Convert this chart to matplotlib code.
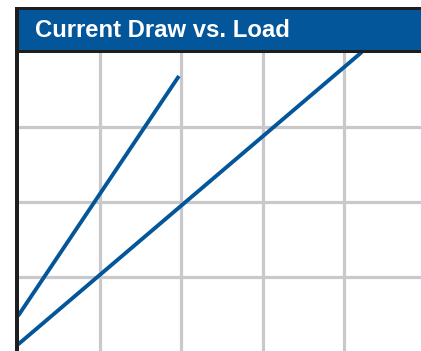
import matplotlib.pyplot as plt
from matplotlib.patches import Rectangle

# load (grid units) vs. current draw (grid units) for the two supplies
load_a = [0.0, 1.975]
current_a = [0.48, 3.68]
load_b = [0.0, 4.22]
current_b = [0.10, 4.0]

grid_x = [1, 2, 3, 4]
grid_y = [1, 2, 3]

W, H = 421, 351
BLUE = '#04569a'
GRID = '#c9c9cb'

fig = plt.figure(figsize=(W / 100, H / 100), dpi=100)


def box(x0, y0, x1, y1):
    # pixel box (top-left origin) -> figure fraction [l, b, w, h]
    return [x0 / W, 1 - y1 / H, (x1 - x0) / W, (y1 - y0) / H]


# plot area: 5 columns x 4 rows, 81.5 x 75 px cells, bottom row cut off
ax = fig.add_axes(box(18, 52, 18 + 81.5 * 5, 352))
ax.set_xlim(0, 5)
ax.set_ylim(0, 4)
ax.set_xticks(grid_x)
ax.set_yticks(grid_y)
ax.tick_params(length=0, labelbottom=False, labelleft=False)
ax.grid(True, color=GRID, linewidth=2.3)
ax.set_axisbelow(True)
for side in ['top', 'right', 'bottom', 'left']:
    ax.spines[side].set_visible(False)

ax.plot(load_a, current_a, color=BLUE, linewidth=2.8, solid_capstyle='butt')
ax.plot(load_b, current_b, color=BLUE, linewidth=2.8, solid_capstyle='butt')

# header bar with black frame
l, b, w, h = box(15, 7, 430, 53)
fig.add_artist(Rectangle((l, b), w, h, transform=fig.transFigure,
                         facecolor='#1e1e1e', edgecolor='none', zorder=5))
l, b, w, h = box(19, 10, 430, 49.5)
fig.add_artist(Rectangle((l, b), w, h, transform=fig.transFigure,
                         facecolor=BLUE, edgecolor='none', zorder=6))
# left frame edge
l, b, w, h = box(15, 7, 19, 360)
fig.add_artist(Rectangle((l, b), w, h, transform=fig.transFigure,
                         facecolor='#1e1e1e', edgecolor='none', zorder=5))

fig.text(35 / W, 1 - 30.5 / H, 'Current Draw vs. Load', color='white',
         fontsize=17.2, fontweight='bold', family='Liberation Sans',
         va='center', ha='left', zorder=7)

fig.savefig('out.png', dpi=100)
